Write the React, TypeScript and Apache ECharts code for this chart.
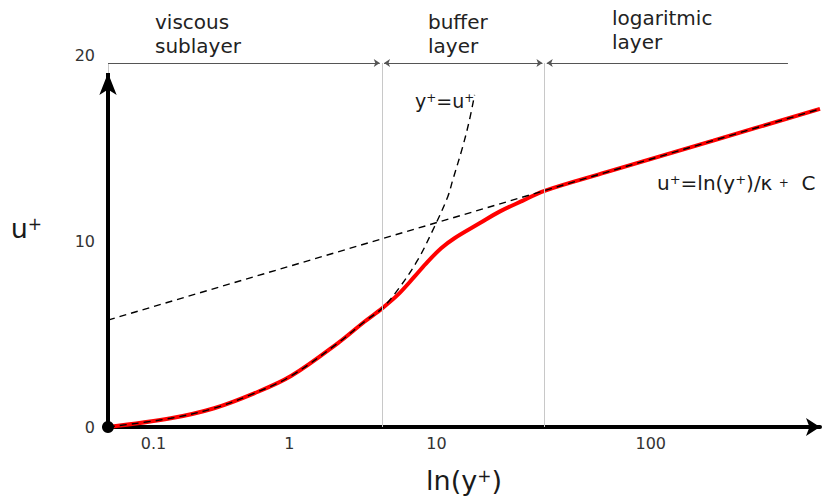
import { useEffect, useRef } from 'react';
import * as echarts from 'echarts';

const FONT = '"DejaVu Sans", sans-serif';

// Positions along the schematic ln(y+) axis (0 at the wall, 100 at the right edge)
const xTickValues = [6.4, 25.46, 46.13, 76.23];
const xTickLabels = ['0.1', '1', '10', '100'];
const yTickInterval = 10;

// Mean velocity profile u+ across the wall region
const profileX = [0, 8.82, 14.91, 20.53, 25.7, 32.25, 36.01, 38.5, 40.69, 43.04, 44.91, 46.79, 48.66, 52.18, 54.99, 58.27, 61.32, 70, 85, 100];
const profileU = [0, 0.47, 1.01, 1.81, 2.74, 4.5, 5.66, 6.38, 7.1, 8.08, 8.89, 9.61, 10.15, 10.95, 11.58, 12.17, 12.7, 13.7, 15.4, 17.1];

// Viscous sublayer relation u+ = y+
const viscousX = [0, 8.82, 14.91, 20.53, 25.7, 32.25, 36.01, 38.5, 40.69, 43.5, 45.85, 47.72, 48.42, 49.82, 50.77, 51.48];
const viscousU = [0, 0.47, 1.01, 1.81, 2.74, 4.5, 5.66, 6.38, 7.37, 8.98, 10.77, 12.38, 13.28, 15.07, 16.51, 17.85];

// Log law u+ = ln(y+)/κ + C
const logLawX = [0, 100];
const logLawU = [5.75, 17.1];

// Outer edges of the viscous sublayer and of the buffer layer
const layerEdges = [38.47, 61.32];
const bracketLevel = 19.57;
const bracketEnd = 95.5;
const yArrowTop = 19.03;

const pairs = (xs: number[], ys: number[]) => xs.map((x, i) => [x, ys[i]]);

const edgeGap = 0.3;
const bracketSegments = [
  [
    { coord: [0, bracketLevel], symbol: 'none' },
    { coord: [layerEdges[0] - edgeGap, bracketLevel], symbol: 'arrow' },
  ],
  [
    { coord: [layerEdges[0] + edgeGap, bracketLevel], symbol: 'arrow' },
    { coord: [layerEdges[1] - edgeGap, bracketLevel], symbol: 'arrow' },
  ],
  [
    { coord: [layerEdges[1] + edgeGap, bracketLevel], symbol: 'arrow' },
    { coord: [bracketEnd, bracketLevel], symbol: 'none' },
  ],
];

const edgeLines = [0, ...layerEdges].map((x) => [
  { coord: [x, 0] },
  { coord: [x, bracketLevel] },
]);

const headerStyle = (text: string) => ({
  text,
  fontSize: 20,
  fontFamily: FONT,
  lineHeight: 24,
  fill: '#222',
  align: 'left',
  textAlign: 'left',
  verticalAlign: 'top',
  textVerticalAlign: 'top',
});

const option: any = {
  animation: false,
  backgroundColor: '#fff',
  grid: { left: 108, right: 2, top: 55, bottom: 73 },
  xAxis: {
    type: 'value',
    min: 0,
    max: 100,
    name: '{m|ln(y}{s|+}{m|)}',
    nameLocation: 'middle',
    nameGap: 40,
    nameTextStyle: {
      rich: {
        m: { fontSize: 27, fontFamily: FONT, color: '#1a1a1a' },
        s: { fontSize: 17, fontFamily: FONT, color: '#1a1a1a', verticalAlign: 'top' },
      },
    },
    axisLine: {
      show: true,
      lineStyle: { color: '#000', width: 4 },
      symbol: ['none', 'arrow'],
      symbolSize: [13.5, 14],
      symbolOffset: [0, 0],
    },
    axisTick: { show: false },
    splitLine: { show: false },
    axisLabel: {
      customValues: xTickValues,
      formatter: (v: number) => {
        const i = xTickValues.findIndex((t) => Math.abs(t - v) < 1e-6);
        return i >= 0 ? xTickLabels[i] : '';
      },
      fontSize: 16,
      fontFamily: FONT,
      color: '#333',
      margin: 8,
    },
  },
  yAxis: {
    type: 'value',
    min: 0,
    max: 20,
    interval: yTickInterval,
    name: '{m|u}{s|+}',
    nameLocation: 'middle',
    nameRotate: 0,
    nameGap: 66,
    nameTextStyle: {
      padding: [0, 0, 25, 0],
      rich: {
        m: { fontSize: 27, fontFamily: FONT, color: '#1a1a1a' },
        s: { fontSize: 17, fontFamily: FONT, color: '#1a1a1a', verticalAlign: 'top' },
      },
    },
    axisLine: { show: false },
    axisTick: { show: false },
    splitLine: { show: false },
    axisLabel: { fontSize: 16, fontFamily: FONT, color: '#333', margin: 13 },
  },
  graphic: [
    { type: 'text', x: 155, y: 10, style: headerStyle('viscous\nsublayer') },
    { type: 'text', x: 428, y: 10, style: headerStyle('buffer\nlayer') },
    { type: 'text', x: 612, y: 6, style: headerStyle('logaritmic\nlayer') },
    {
      type: 'text',
      x: 415,
      y: 101,
      style: {
        text: '{m|y}{s|+}{m|=u}{s|+}',
        fill: '#1a1a1a',
        align: 'left',
        textAlign: 'left',
        verticalAlign: 'middle',
        textVerticalAlign: 'middle',
        rich: {
          m: { fontSize: 19, fontFamily: FONT, fill: '#1a1a1a' },
          s: { fontSize: 12, fontFamily: FONT, fill: '#1a1a1a', verticalAlign: 'top' },
        },
      },
    },
    {
      type: 'text',
      x: 657,
      y: 183,
      style: {
        text: '{m|u}{s|+}{m|=ln(y}{s|+}{m|)/κ }{p|+}{m|  C}',
        fill: '#1a1a1a',
        align: 'left',
        textAlign: 'left',
        verticalAlign: 'middle',
        textVerticalAlign: 'middle',
        rich: {
          m: { fontSize: 20, fontFamily: FONT, fill: '#1a1a1a' },
          s: { fontSize: 13, fontFamily: FONT, fill: '#1a1a1a', verticalAlign: 'top' },
          p: { fontSize: 12, fontFamily: FONT, fill: '#1a1a1a' },
        },
      },
    },
  ],
  series: [
    {
      type: 'line',
      name: 'layer edges',
      data: [[0, 0]],
      showSymbol: false,
      symbol: 'none',
      lineStyle: { opacity: 0 },
      silent: true,
      z: 1,
      markLine: {
        silent: true,
        symbol: 'none',
        label: { show: false },
        emphasis: { disabled: true },
        lineStyle: { color: '#c8c8c8', width: 1, type: 'solid' },
        data: edgeLines,
      },
    },
    {
      type: 'line',
      name: 'layer brackets',
      data: [[0, 0]],
      showSymbol: false,
      symbol: 'none',
      lineStyle: { opacity: 0 },
      silent: true,
      z: 1,
      markLine: {
        silent: true,
        symbolSize: 6,
        label: { show: false },
        emphasis: { disabled: true },
        lineStyle: { color: '#555', width: 1, type: 'solid' },
        data: bracketSegments,
      },
    },
    {
      type: 'line',
      name: 'profile',
      data: pairs(profileX, profileU),
      smooth: 0.35,
      showSymbol: false,
      symbol: 'none',
      lineStyle: { color: '#ff0000', width: 4 },
      z: 2,
    },
    {
      type: 'line',
      name: 'u+ = y+',
      data: pairs(viscousX, viscousU),
      smooth: 0.35,
      showSymbol: false,
      symbol: 'none',
      lineStyle: { color: '#000', width: 1.4, type: [7, 5] },
      z: 3,
    },
    {
      type: 'line',
      name: 'log law',
      data: pairs(logLawX, logLawU),
      showSymbol: false,
      symbol: 'none',
      lineStyle: { color: '#000', width: 1.4, type: [7, 5] },
      z: 3,
    },
    {
      type: 'scatter',
      name: 'origin',
      data: [[0, 0]],
      symbolSize: 12,
      itemStyle: { color: '#000', opacity: 1 },
      silent: true,
      z: 6,
      markLine: {
        silent: true,
        label: { show: false },
        emphasis: { disabled: true },
        lineStyle: { color: '#000', width: 4, type: 'solid' },
        data: [
          [
            { coord: [0, 0], symbol: 'none' },
            { coord: [0, yArrowTop], symbol: 'arrow', symbolSize: [13, 22] },
          ],
        ],
      },
    },
  ],
};

export default function App() {
  const ref = useRef<HTMLDivElement>(null);
  useEffect(() => {
    const chart = echarts.init(ref.current!, null, { renderer: 'svg' });
    chart.setOption(option);
    return () => chart.dispose();
  }, []);
  return (
    <div
      ref={ref}
      style={{ position: 'fixed', left: 0, top: 0, width: 822, height: 500, background: '#fff' }}
    />
  );
}
